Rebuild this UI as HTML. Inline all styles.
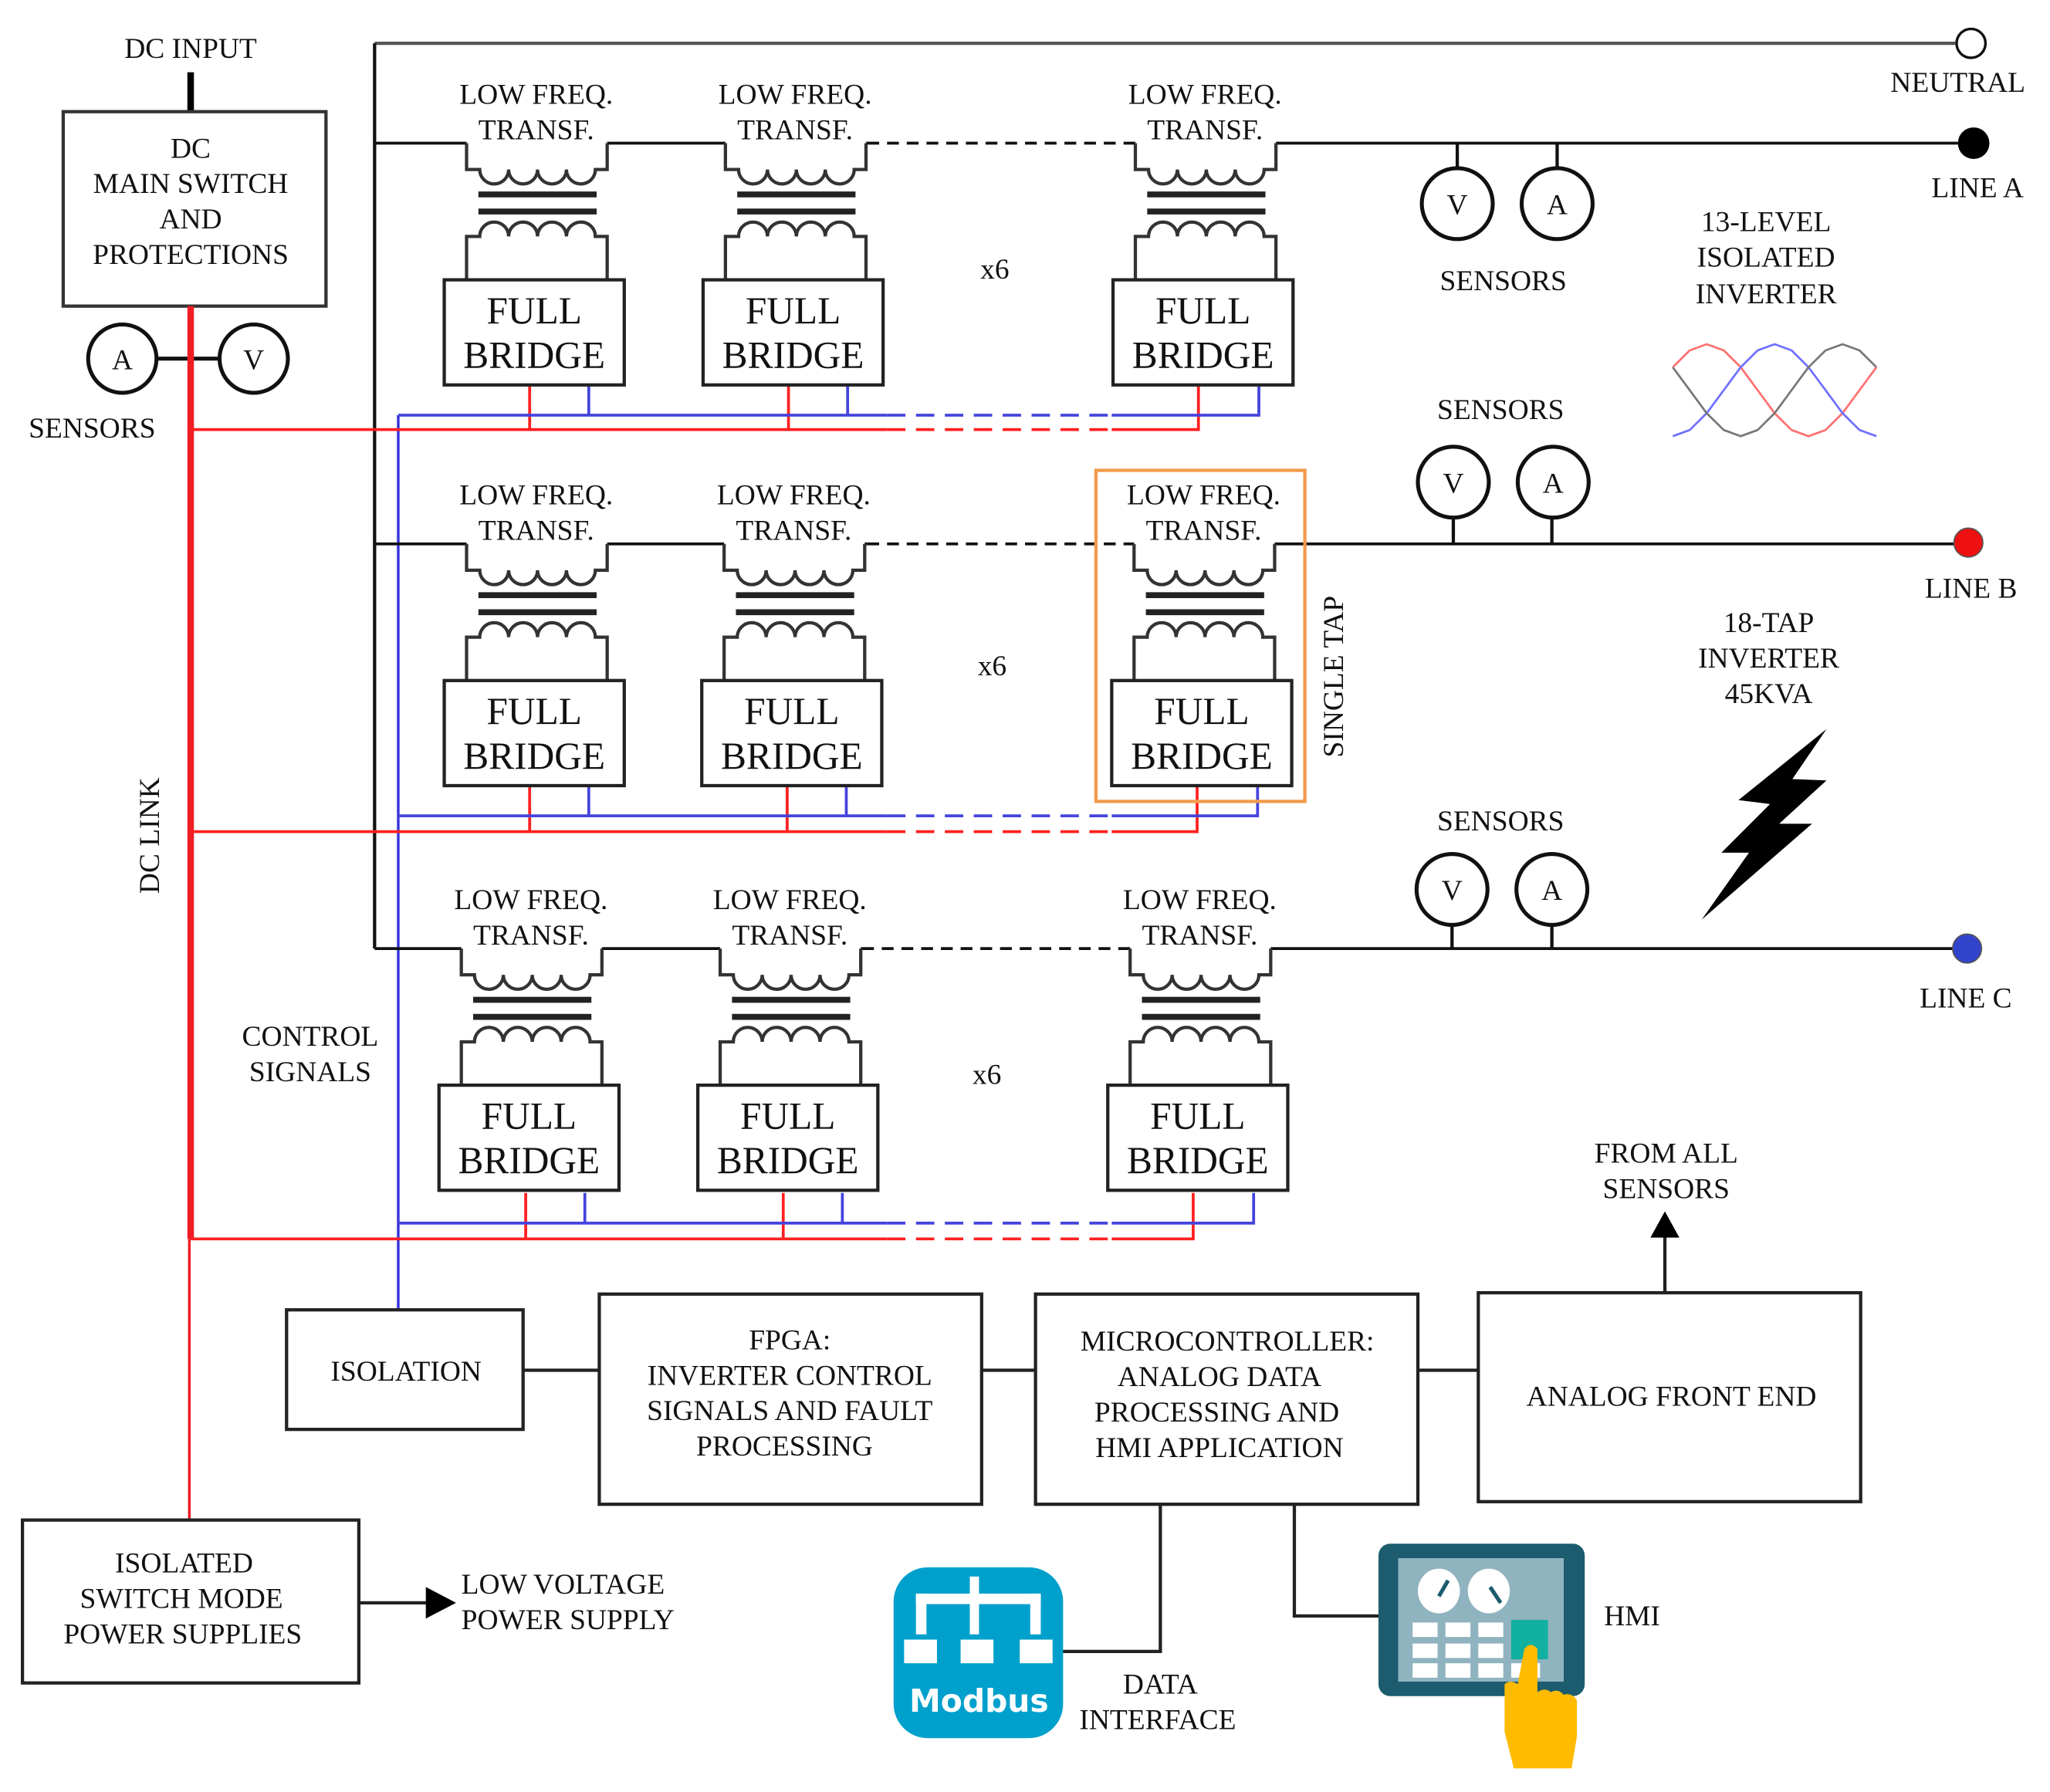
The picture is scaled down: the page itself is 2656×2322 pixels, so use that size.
<!DOCTYPE html>
<html><head><meta charset="utf-8"><style>
html,body{margin:0;padding:0;background:#fff}
svg{display:block}
text{font-family:"Liberation Serif",serif;fill:#111}
</style></head><body>
<svg xmlns="http://www.w3.org/2000/svg" width="2656" height="2322" viewBox="0 0 1560 1364" font-family="Liberation Serif, serif">
<defs>
<g id="tr">
  <text x="70" y="-30" font-size="22" text-anchor="middle">LOW FREQ.</text>
  <text x="70" y="-3" font-size="22" text-anchor="middle">TRANSF.</text>
  <path d="M17,0 V20 H27 a11,11 0 0 0 22,0 a11,11 0 0 0 22,0 a11,11 0 0 0 22,0 a11,11 0 0 0 22,0 H124 V0" fill="none" stroke="#333" stroke-width="2.5"/>
  <line x1="26" y1="39" x2="116" y2="39" stroke="#222" stroke-width="4.5"/>
  <line x1="26" y1="52" x2="116" y2="52" stroke="#222" stroke-width="4.5"/>
  <path d="M17,104 V71 H27 a11,11 0 0 1 22,0 a11,11 0 0 1 22,0 a11,11 0 0 1 22,0 a11,11 0 0 1 22,0 H124 V104" fill="none" stroke="#333" stroke-width="2.5"/>
  <rect x="0" y="104" width="137" height="80" fill="#fff" stroke="#222" stroke-width="2.5"/>
  <text x="68.5" y="137" font-size="29" text-anchor="middle">FULL</text>
  <text x="68.5" y="171" font-size="29" text-anchor="middle">BRIDGE</text>
</g>
<g id="va">
  <circle cx="0" cy="0" r="27" fill="#fff" stroke="#111" stroke-width="3"/>
  <text x="0" y="8" font-size="22" text-anchor="middle">V</text>
  <circle cx="76" cy="0" r="27" fill="#fff" stroke="#111" stroke-width="3"/>
  <text x="76" y="8" font-size="22" text-anchor="middle">A</text>
</g>
</defs>

<text x="145" y="44" font-size="22" text-anchor="middle">DC INPUT</text>
<line x1="145" y1="55" x2="145" y2="85" stroke="#000" stroke-width="5"/>
<rect x="48" y="85" width="200" height="148" fill="#fff" stroke="#333" stroke-width="2.5"/>
<text x="145" y="120" font-size="22" text-anchor="middle">DC</text>
<text x="145" y="147" font-size="22" text-anchor="middle">MAIN SWITCH</text>
<text x="145" y="174" font-size="22" text-anchor="middle">AND</text>
<text x="145" y="201" font-size="22" text-anchor="middle">PROTECTIONS</text>
<line x1="119" y1="273" x2="167" y2="273" stroke="#111" stroke-width="3"/>
<circle cx="93" cy="273" r="26" fill="#fff" stroke="#111" stroke-width="3"/>
<text x="93" y="281" font-size="22" text-anchor="middle">A</text>
<circle cx="193" cy="273" r="26" fill="#fff" stroke="#111" stroke-width="3"/>
<text x="193" y="281" font-size="22" text-anchor="middle">V</text>
<text x="70" y="333" font-size="22" text-anchor="middle">SENSORS</text>
<text x="0" y="0" font-size="22" text-anchor="middle" transform="translate(121,636) rotate(-90)">DC LINK</text>
<text x="236" y="796" font-size="22" text-anchor="middle">CONTROL</text>
<text x="236" y="823" font-size="22" text-anchor="middle">SIGNALS</text>

<line x1="285" y1="33" x2="1488" y2="33" stroke="#555" stroke-width="2.5"/>
<circle cx="1500" cy="33" r="11" fill="#fff" stroke="#111" stroke-width="2"/>
<text x="1490" y="70" font-size="22" text-anchor="middle">NEUTRAL</text>
<line x1="285" y1="33" x2="285" y2="722" stroke="#111" stroke-width="2.5"/>

<line x1="303" y1="316" x2="303" y2="997" stroke="#3333dd" stroke-width="2"/>

<line x1="145" y1="233" x2="145" y2="943" stroke="#ee1c25" stroke-width="5"/>
<line x1="144" y1="943" x2="144" y2="1157" stroke="#ee1c25" stroke-width="2"/>

<g stroke-width="2.2" fill="none">
<path d="M145,327 H675 M846,327 H912 V293 M403,327 V293 M600,327 V293" stroke="#ff2020"/>
<path d="M675,327 H846" stroke="#ff2020" stroke-dasharray="14,8"/>
<path d="M303,316 H675 M846,316 H958 V293 M448,316 V293 M645,316 V293" stroke="#4444dd"/>
<path d="M675,316 H846" stroke="#4444dd" stroke-dasharray="14,8"/>
<path d="M285,109 H355 M462,109 H552 M659,109 H660 M971,109 H1490" stroke="#111"/>
<path d="M660,109 H864" stroke="#111" stroke-dasharray="9,6"/>
<path d="M285,414 H355 M462,414 H551 M658,414 H660 M970,414 H1487" stroke="#111"/>
<path d="M660,414 H863" stroke="#111" stroke-dasharray="9,6"/>
<path d="M145,633 H675 M846,633 H911 V598 M403,633 V598 M599,633 V598" stroke="#ff2020"/>
<path d="M675,633 H846" stroke="#ff2020" stroke-dasharray="14,8"/>
<path d="M303,621 H675 M846,621 H957 V598 M448,621 V598 M644,621 V598" stroke="#4444dd"/>
<path d="M675,621 H846" stroke="#4444dd" stroke-dasharray="14,8"/>
<path d="M285,722 H351 M458,722 H548 M655,722 H656 M967,722 H1486" stroke="#111"/>
<path d="M656,722 H860" stroke="#111" stroke-dasharray="9,6"/>
<path d="M145,943 H675 M846,943 H908 V908 M400,943 V908 M596,943 V908" stroke="#ff2020"/>
<path d="M675,943 H846" stroke="#ff2020" stroke-dasharray="14,8"/>
<path d="M303,931 H675 M846,931 H954 V908 M445,931 V908 M641,931 V908" stroke="#4444dd"/>
<path d="M675,931 H846" stroke="#4444dd" stroke-dasharray="14,8"/>
</g>

<use href="#tr" transform="translate(338,109)"/>
<use href="#tr" transform="translate(535,109)"/>
<use href="#tr" transform="translate(847,109)"/>
<use href="#tr" transform="translate(338,414)"/>
<use href="#tr" transform="translate(534,414)"/>
<use href="#tr" transform="translate(846,414)"/>
<use href="#tr" transform="translate(334,722)"/>
<use href="#tr" transform="translate(531,722)"/>
<use href="#tr" transform="translate(843,722)"/>

<text x="757" y="212" font-size="22" text-anchor="middle">x6</text>
<text x="755" y="514" font-size="22" text-anchor="middle">x6</text>
<text x="751" y="825" font-size="22" text-anchor="middle">x6</text>

<rect x="834" y="358" width="159" height="252" fill="none" stroke="#f39a4a" stroke-width="2.5"/>
<text x="0" y="0" font-size="22" text-anchor="middle" transform="translate(1022,515) rotate(-90)">SINGLE TAP</text>

<g stroke="#111" stroke-width="2.5">
<line x1="1109" y1="109" x2="1109" y2="130"/><line x1="1185" y1="109" x2="1185" y2="130"/>
<line x1="1106" y1="390" x2="1106" y2="414"/><line x1="1181" y1="390" x2="1181" y2="414"/>
<line x1="1105" y1="700" x2="1105" y2="722"/><line x1="1181" y1="700" x2="1181" y2="722"/>
</g>
<use href="#va" transform="translate(1109,155)"/>
<use href="#va" transform="translate(1106,367)"/>
<use href="#va" transform="translate(1105,677)"/>
<text x="1144" y="221" font-size="22" text-anchor="middle">SENSORS</text>
<text x="1142" y="319" font-size="22" text-anchor="middle">SENSORS</text>
<text x="1142" y="632" font-size="22" text-anchor="middle">SENSORS</text>

<circle cx="1502" cy="109" r="12" fill="#000"/>
<text x="1505" y="150" font-size="22" text-anchor="middle">LINE A</text>
<circle cx="1498" cy="413" r="11" fill="#ee1111" stroke="#555" stroke-width="1"/>
<text x="1500" y="455" font-size="22" text-anchor="middle">LINE B</text>
<circle cx="1497" cy="722" r="11" fill="#3344cc" stroke="#555" stroke-width="1"/>
<text x="1496" y="767" font-size="22" text-anchor="middle">LINE C</text>

<text x="1344" y="176" font-size="22" text-anchor="middle">13-LEVEL</text>
<text x="1344" y="203" font-size="22" text-anchor="middle">ISOLATED</text>
<text x="1344" y="231" font-size="22" text-anchor="middle">INVERTER</text>
<g fill="none" stroke-width="1.6" stroke-linejoin="round">
<polyline stroke="#ff7070" points="1273,279.5 1285.9,266.7 1298.8,262 1311.8,266.7 1324.7,279.5 1337.6,297 1350.5,314.5 1363.4,327.3 1376.3,332 1389.3,327.3 1402.2,314.5 1415.1,297 1428,279.5"/>
<polyline stroke="#7070ff" points="1273,332 1285.9,327.3 1298.8,314.5 1311.8,297 1324.7,279.5 1337.6,266.7 1350.5,262 1363.4,266.7 1376.3,279.5 1389.3,297 1402.2,314.5 1415.1,327.3 1428,332"/>
<polyline stroke="#777" points="1273,279.5 1285.9,297 1298.8,314.5 1311.8,327.3 1324.7,332 1337.6,327.3 1350.5,314.5 1363.4,297 1376.3,279.5 1389.3,266.7 1402.2,262 1415.1,266.7 1428,279.5"/>
</g>

<text x="1346" y="481" font-size="22" text-anchor="middle">18-TAP</text>
<text x="1346" y="508" font-size="22" text-anchor="middle">INVERTER</text>
<text x="1346" y="535" font-size="22" text-anchor="middle">45KVA</text>
<polygon points="1390,555 1323,609 1347,612 1310,649 1331,649 1295,700 1379,627 1354,627 1390,594 1364,593" fill="#000"/>

<g stroke="#222" stroke-width="2.5" fill="none">
<rect x="218" y="997" width="180" height="91"/>
<rect x="456" y="985" width="291" height="160"/>
<rect x="788" y="985" width="291" height="160"/>
<rect x="1125" y="984" width="291" height="159"/>
<line x1="398" y1="1043" x2="456" y2="1043"/>
<line x1="747" y1="1043" x2="788" y2="1043"/>
<line x1="1079" y1="1043" x2="1125" y2="1043"/>
<line x1="1267" y1="984" x2="1267" y2="938"/>
<rect x="17" y="1157" width="256" height="124"/>
<line x1="273" y1="1220" x2="328" y2="1220"/>
<path d="M883,1145 V1257 H808"/>
<path d="M985,1145 V1230 H1050"/>
</g>
<polygon points="1267,922 1256,942 1278,942" fill="#000"/>
<polygon points="347,1220 324,1208 324,1232" fill="#000"/>

<text x="309" y="1051" font-size="22" text-anchor="middle">ISOLATION</text>
<text x="601" y="1027" font-size="22" text-anchor="middle">FPGA:</text>
<text x="601" y="1054" font-size="22" text-anchor="middle">INVERTER CONTROL</text>
<text x="601" y="1081" font-size="22" text-anchor="middle">SIGNALS AND FAULT</text>
<text x="597" y="1108" font-size="22" text-anchor="middle">PROCESSING</text>
<text x="934" y="1028" font-size="22" text-anchor="middle">MICROCONTROLLER:</text>
<text x="928" y="1055" font-size="22" text-anchor="middle">ANALOG DATA</text>
<text x="926" y="1082" font-size="22" text-anchor="middle">PROCESSING AND</text>
<text x="928" y="1109" font-size="22" text-anchor="middle">HMI APPLICATION</text>
<text x="1272" y="1070" font-size="22" text-anchor="middle">ANALOG FRONT END</text>
<text x="1268" y="885" font-size="22" text-anchor="middle">FROM ALL</text>
<text x="1268" y="912" font-size="22" text-anchor="middle">SENSORS</text>
<text x="140" y="1197" font-size="22" text-anchor="middle">ISOLATED</text>
<text x="138" y="1224" font-size="22" text-anchor="middle">SWITCH MODE</text>
<text x="139" y="1251" font-size="22" text-anchor="middle">POWER SUPPLIES</text>
<text x="351" y="1213" font-size="22">LOW VOLTAGE</text>
<text x="351" y="1240" font-size="22">POWER SUPPLY</text>
<text x="883" y="1289" font-size="22" text-anchor="middle">DATA</text>
<text x="881" y="1316" font-size="22" text-anchor="middle">INTERFACE</text>
<text x="1242" y="1237" font-size="22" text-anchor="middle">HMI</text>

<rect x="680" y="1193" width="129" height="130" rx="26" fill="#00a0cc"/>
<g fill="#fff">
<rect x="738" y="1200" width="7" height="44"/>
<rect x="697" y="1213" width="95" height="8"/>
<rect x="697" y="1213" width="8" height="31"/>
<rect x="784" y="1213" width="8" height="31"/>
<rect x="688" y="1248" width="25" height="18"/>
<rect x="731" y="1248" width="25" height="18"/>
<rect x="776" y="1248" width="25" height="18"/>
</g>
<text x="745" y="1303" font-size="24" font-weight="bold" text-anchor="middle" style="font-family:'DejaVu Sans',sans-serif;fill:#fff">Modbus</text>

<rect x="1049" y="1175" width="157" height="116" rx="9" fill="#1c5c6e"/>
<rect x="1064" y="1186" width="126" height="94" fill="#8fb3bf"/>
<ellipse cx="1095" cy="1211" rx="16" ry="17" fill="#fff"/>
<ellipse cx="1133" cy="1211" rx="16" ry="17" fill="#fff"/>
<line x1="1095" y1="1215" x2="1102" y2="1203" stroke="#1c5c6e" stroke-width="3"/>
<line x1="1134" y1="1208" x2="1142" y2="1220" stroke="#1c5c6e" stroke-width="3"/>
<g fill="#fff">
<rect x="1075" y="1235" width="19" height="11"/><rect x="1100" y="1235" width="19" height="11"/><rect x="1125" y="1235" width="19" height="11"/>
<rect x="1075" y="1251" width="19" height="11"/><rect x="1100" y="1251" width="19" height="11"/><rect x="1125" y="1251" width="19" height="11"/>
<rect x="1075" y="1266" width="19" height="11"/><rect x="1100" y="1266" width="19" height="11"/><rect x="1125" y="1266" width="19" height="11"/><rect x="1150" y="1266" width="22" height="11"/>
</g>
<rect x="1150" y="1233" width="28" height="30" fill="#12b0a0"/>
<path d="M1160,1255 q5,-6 10,0 V1288 q6,-4 10,0 q6,-3 10,2 q6,-2 10,4 V1322 L1196,1346 H1152 L1145,1318 V1282 q4,-4 10,0 Z" fill="#ffbb00"/>
</svg>
</body></html>
